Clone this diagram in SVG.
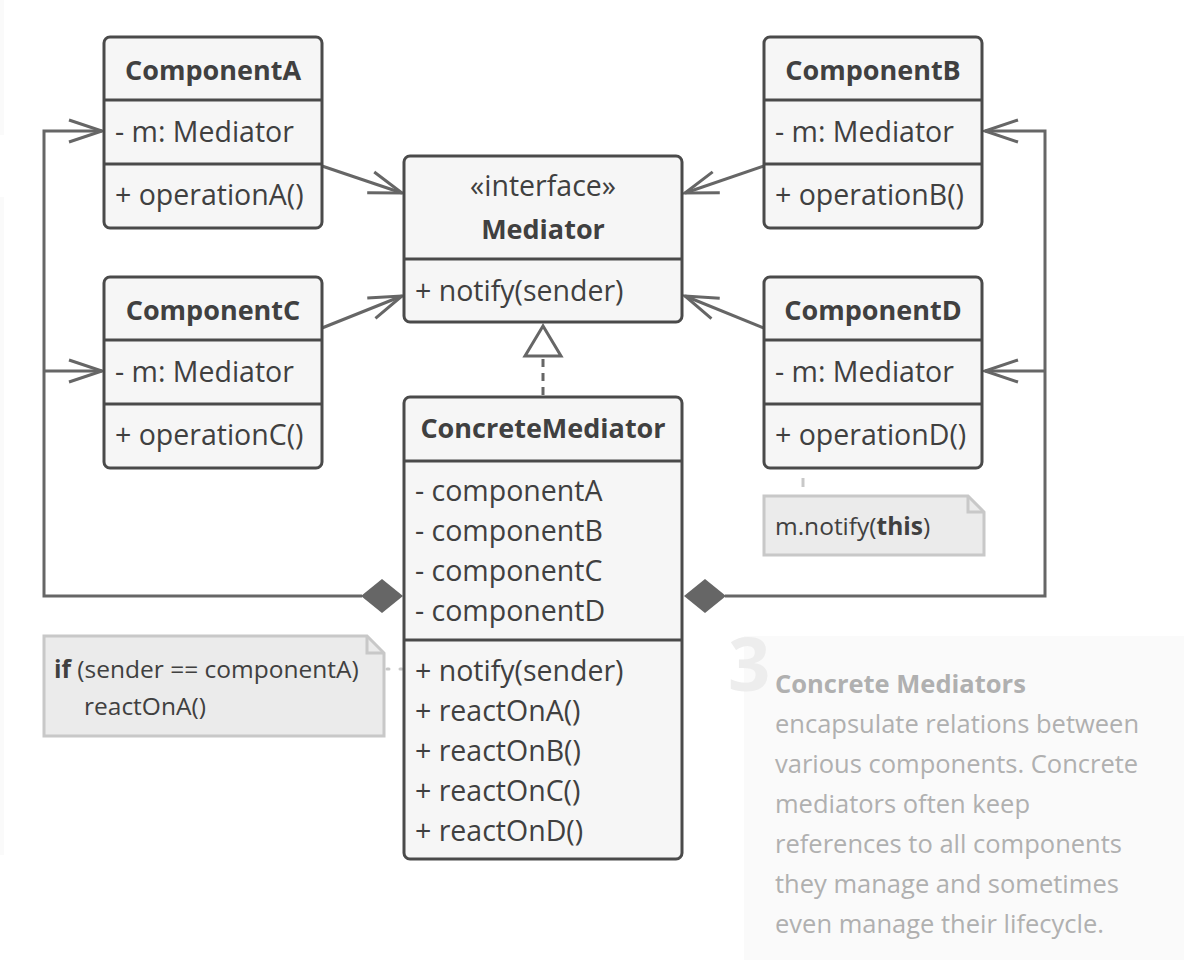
<svg xmlns="http://www.w3.org/2000/svg" width="1188" height="960" viewBox="0 0 1188 960">
<style>
.box{fill:#f6f6f6;stroke:#4a4a4a;stroke-width:3}
.div{stroke:#4a4a4a;stroke-width:3}
.t{font-family:"Open Sans","Noto Sans","Liberation Sans",sans-serif;font-size:28.5px;fill:#404040}
.b{font-weight:bold;font-size:27px;text-anchor:middle}
.conn{fill:none;stroke:#666;stroke-width:3}
.note{fill:#ebebeb;stroke:#c8c8c8;stroke-width:3}
.nt{font-family:"Open Sans","Noto Sans","Liberation Sans",sans-serif;font-size:24.5px;fill:#404040}
.desc{font-family:"Open Sans","Noto Sans","Liberation Sans",sans-serif;font-size:25.5px;fill:#b0b0b0}
</style>
<defs>
<marker id="open" markerUnits="userSpaceOnUse" markerWidth="40" markerHeight="30" viewBox="-36 -15 40 30" refX="0" refY="0" orient="auto">
<path d="M -33 -11 L 0 0 L -33 11" fill="none" stroke="#666" stroke-width="3"/>
</marker>
</defs>
<rect width="1188" height="960" fill="#ffffff"/>
<rect x="0" y="0" width="4" height="135" fill="#fafafa"/>
<rect x="0" y="197" width="4" height="658" fill="#fafafa"/>
<g id="description">
<rect x="744" y="636" width="440" height="324" fill="#fafafa"/>
<text x="728" y="691" font-family="'Open Sans','Noto Sans',sans-serif" font-size="74" font-weight="bold" fill="#ededed">3</text>
<text class="desc" x="775" y="693" font-weight="bold" fill="#a8a8a8">Concrete Mediators</text>
<text class="desc" x="775" y="733">encapsulate relations between</text>
<text class="desc" x="775" y="773">various components. Concrete</text>
<text class="desc" x="775" y="813">mediators often keep</text>
<text class="desc" x="775" y="853">references to all components</text>
<text class="desc" x="775" y="893">they manage and sometimes</text>
<text class="desc" x="775" y="933">even manage their lifecycle.</text>
</g>
<g id="connectors">
<line class="conn" x1="322" y1="166" x2="402" y2="193" marker-end="url(#open)"/>
<line class="conn" x1="322" y1="328" x2="402" y2="296" marker-end="url(#open)"/>
<line class="conn" x1="764" y1="166" x2="685" y2="193" marker-end="url(#open)"/>
<line class="conn" x1="764" y1="328" x2="685" y2="296" marker-end="url(#open)"/>
<path class="conn" d="M 362 596 H 44 V 131 H 102" marker-end="url(#open)"/>
<path class="conn" d="M 44 371 H 102" marker-end="url(#open)"/>
<path class="conn" d="M 725 596 H 1045 V 131 H 985" marker-end="url(#open)"/>
<path class="conn" d="M 1045 371 H 985" marker-end="url(#open)"/>
<polygon points="403,596 382,579 361,596 382,613" fill="#666"/>
<polygon points="684,596 705,579 726,596 705,613" fill="#666"/>
<line class="conn" x1="543" y1="395" x2="543" y2="356" stroke-dasharray="8 6"/>
<polygon points="543,326 525,356 561,356" fill="#ffffff" stroke="#666" stroke-width="3"/>
<line x1="803" y1="478" x2="803" y2="487" stroke="#c8c8c8" stroke-width="3"/>
<line x1="387" y1="669" x2="403" y2="669" stroke="#c8c8c8" stroke-width="3" stroke-dasharray="2 11" stroke-linecap="round"/>
</g>
<g id="componentA">
<rect class="box" x="104" y="37" width="218" height="191" rx="6"/>
<line class="div" x1="104" y1="100" x2="322" y2="100"/>
<line class="div" x1="104" y1="164" x2="322" y2="164"/>
<text class="t b" x="213" y="80">ComponentA</text>
<text class="t" x="115" y="142">- m: Mediator</text>
<text class="t" x="115" y="205">+ operationA()</text>
</g>
<g id="componentC">
<rect class="box" x="104" y="277" width="218" height="191" rx="6"/>
<line class="div" x1="104" y1="340" x2="322" y2="340"/>
<line class="div" x1="104" y1="404" x2="322" y2="404"/>
<text class="t b" x="213" y="320">ComponentC</text>
<text class="t" x="115" y="382">- m: Mediator</text>
<text class="t" x="115" y="445">+ operationC()</text>
</g>
<g id="componentB">
<rect class="box" x="764" y="37" width="218" height="191" rx="6"/>
<line class="div" x1="764" y1="100" x2="982" y2="100"/>
<line class="div" x1="764" y1="164" x2="982" y2="164"/>
<text class="t b" x="873" y="80">ComponentB</text>
<text class="t" x="775" y="142">- m: Mediator</text>
<text class="t" x="775" y="205">+ operationB()</text>
</g>
<g id="componentD">
<rect class="box" x="764" y="277" width="218" height="191" rx="6"/>
<line class="div" x1="764" y1="340" x2="982" y2="340"/>
<line class="div" x1="764" y1="404" x2="982" y2="404"/>
<text class="t b" x="873" y="320">ComponentD</text>
<text class="t" x="775" y="382">- m: Mediator</text>
<text class="t" x="775" y="445">+ operationD()</text>
</g>
<g id="mediator">
<rect class="box" x="404" y="156" width="278" height="166" rx="6"/>
<line class="div" x1="404" y1="259" x2="682" y2="259"/>
<text class="t" x="543" y="196" text-anchor="middle">«interface»</text>
<text class="t b" x="543" y="239">Mediator</text>
<text class="t" x="415" y="301">+ notify(sender)</text>
</g>
<g id="concreteMediator">
<rect class="box" x="404" y="397" width="278" height="462" rx="6"/>
<line class="div" x1="404" y1="461" x2="682" y2="461"/>
<line class="div" x1="404" y1="640" x2="682" y2="640"/>
<text class="t b" x="543" y="438">ConcreteMediator</text>
<text class="t" x="415" y="501">- componentA</text>
<text class="t" x="415" y="541">- componentB</text>
<text class="t" x="415" y="581">- componentC</text>
<text class="t" x="415" y="621">- componentD</text>
<text class="t" x="415" y="681">+ notify(sender)</text>
<text class="t" x="415" y="721">+ reactOnA()</text>
<text class="t" x="415" y="761">+ reactOnB()</text>
<text class="t" x="415" y="801">+ reactOnC()</text>
<text class="t" x="415" y="841">+ reactOnD()</text>
</g>
<g id="noteD">
<path class="note" d="M 764 496 H 968 L 984 512 V 555 H 764 Z"/>
<path d="M 968 496 V 512 H 984" fill="none" stroke="#c8c8c8" stroke-width="3"/>
<text class="nt" x="775" y="535">m.notify(<tspan font-weight="bold">this</tspan>)</text>
</g>
<g id="noteMediator">
<path class="note" d="M 44 636 H 367 L 384 653 V 736 H 44 Z"/>
<path d="M 367 636 V 653 H 384" fill="none" stroke="#c8c8c8" stroke-width="3"/>
<text class="nt" x="54" y="678"><tspan font-weight="bold">if</tspan> (sender == componentA)</text>
<text class="nt" x="84" y="715">reactOnA()</text>
</g>
</svg>
